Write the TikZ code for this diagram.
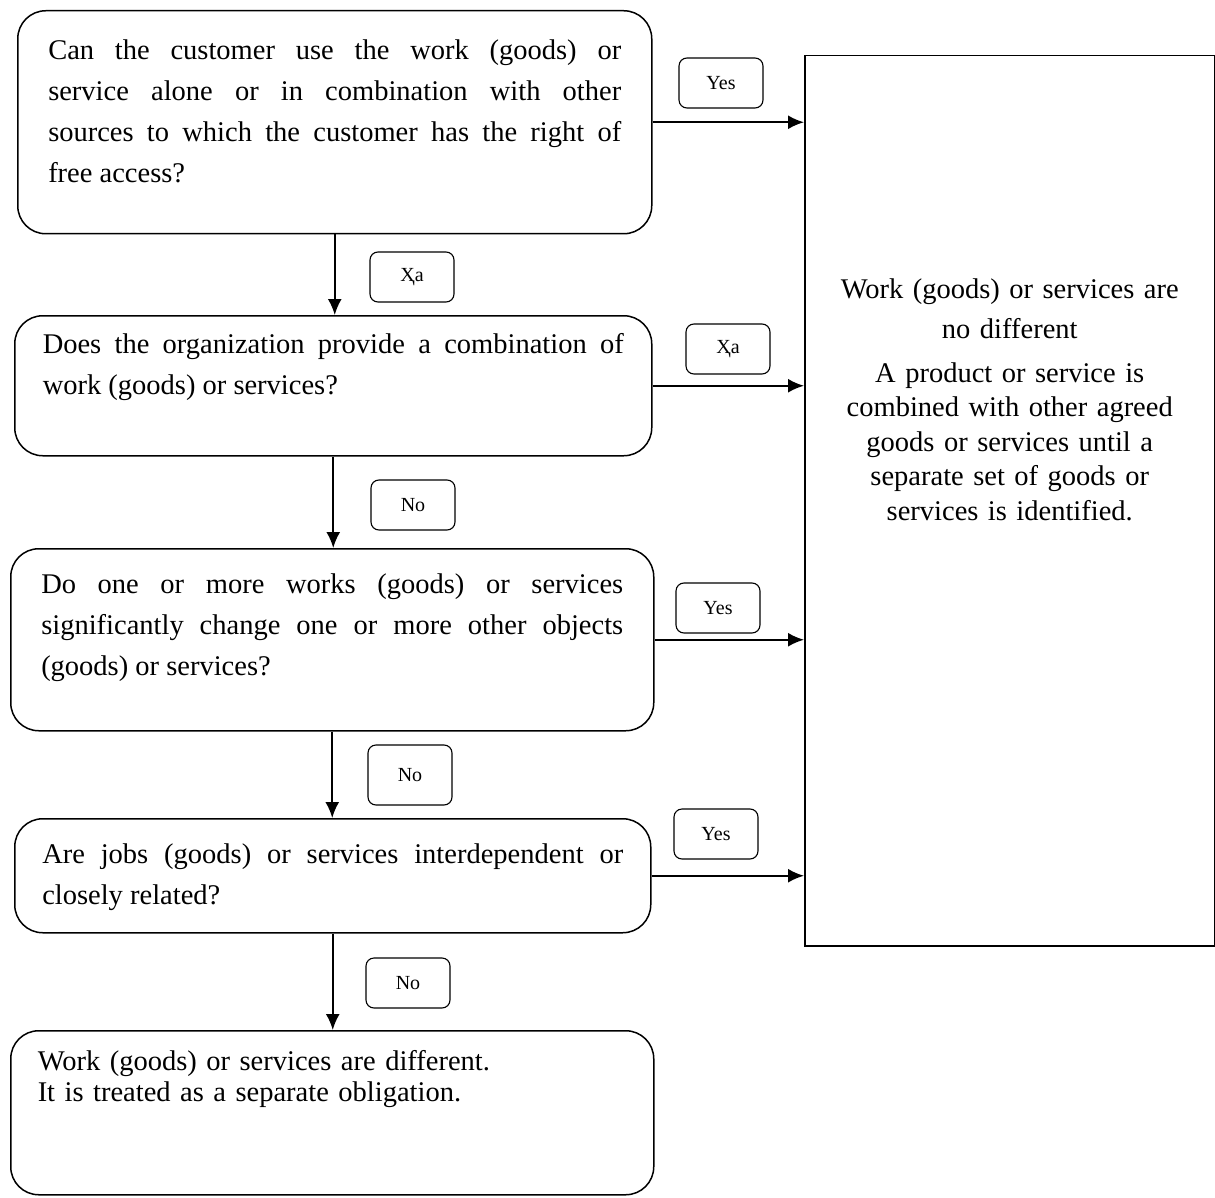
\documentclass[tikz,border=0pt]{standalone}
\usepackage{fontspec}
\setmainfont{Liberation Serif}
\usetikzlibrary{arrows.meta}
\hyphenpenalty=10000
\tolerance=10000
\hbadness=10000
\newcommand{\qfont}{\fontsize{28.5}{41}\selectfont}
\newcommand{\rfont}{\fontsize{28.5}{34.5}\selectfont}
\newcommand{\lfont}{\fontsize{20}{24}\selectfont}
\tikzset{
	qbox/.style={draw, line width=1.5pt, rounded corners=28pt, anchor=north west, inner ysep=0pt, align=justify, font=\qfont},
	lbl/.style={draw, line width=1.1pt, rounded corners=8pt, minimum width=84pt, minimum height=50pt, inner sep=0pt, font=\lfont},
	arr/.style={-{Latex[length=16pt,width=14pt]}, line width=2pt}
}
\begin{document}
\begin{tikzpicture}[x=1pt, y=-1pt]
		\useasboundingbox (0, 0) rectangle (1215, 1198);

		\node [qbox, inner xsep=30.5pt, text width=573pt, text height=49pt, text depth=174pt] (q1) at (17, 10) {Can the customer use the work (goods) or\linebreak service alone or in combination with other\linebreak sources to which the customer has the right of\linebreak free access?};
		\node [qbox, inner xsep=28pt, text width=581pt, text height=38pt, text depth=102pt] (q2) at (14, 315) {Does the organization provide a combination of\linebreak work (goods) or services?};
		\node [qbox, inner xsep=30.5pt, text width=582pt, text height=45pt, text depth=137pt] (q3) at (10, 548) {Do one or more works (goods) or services\linebreak significantly change one or more other objects\linebreak (goods) or services?};
		\node [qbox, inner xsep=27.5pt, text width=581pt, text height=45pt, text depth=69pt] (q4) at (14, 818) {Are jobs (goods) or services interdependent or\linebreak closely related?};
		\node [qbox, inner xsep=27pt, text width=589pt, text height=40pt, text depth=124pt, align=left, font=\fontsize{28.5}{31}\selectfont] (diff) at (10, 1030) {Work (goods) or services are different.\\It is treated as a separate obligation.};

		\node [draw, line width=1.5pt, anchor=north west, inner xsep=20pt, inner ysep=0pt, text width=370pt, text height=243pt, text depth=647pt, align=center, font=\rfont] (res) at (804, 55) {Work (goods) or services are\\[5.5pt]no different\\[9pt]A product or service is\\combined with other agreed\\goods or services until a\\separate set of goods or\\services is identified.};

		\node [lbl] (y1) at (721, 83) {Yes};
		\node [lbl] (x1) at (412, 277) {Ҳа};
		\node [lbl] (x2) at (728, 349) {Ҳа};
		\node [lbl] (n1) at (413, 505) {No};
		\node [lbl] (y2) at (718, 608) {Yes};
		\node [lbl, minimum height=60pt] (n2) at (410, 775) {No};
		\node [lbl] (y3) at (716, 834) {Yes};
		\node [lbl] (n3) at (408, 983) {No};

		\draw [arr]	(q1.south) to (q1.south |- q2.north);
		\draw [arr]	(q2.south) to (q2.south |- q3.north);
		\draw [arr]	(q3.south) to (q3.south |- q4.north);
		\draw [arr]	(q4.south) to (q4.south |- diff.north);

		\draw [arr]	(q1.east) to (q1.east -| res.west);
		\draw [arr]	(q2.east) to (q2.east -| res.west);
		\draw [arr]	(q3.east) to (q3.east -| res.west);
		\draw [arr]	(q4.east) to (q4.east -| res.west);
\end{tikzpicture}
\end{document}
